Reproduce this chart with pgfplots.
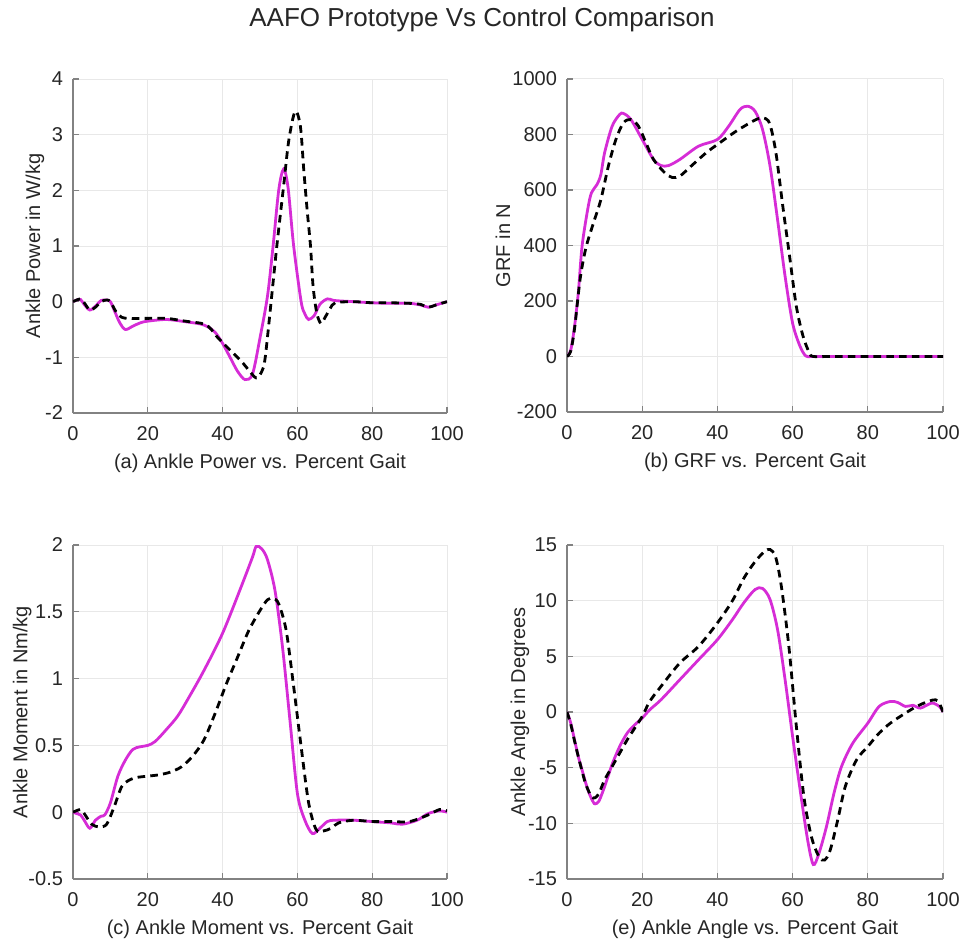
\documentclass[border=0pt]{standalone}
\usepackage{fontspec}
\setmainfont{Liberation Sans}
\usepackage{pgfplots}
\pgfplotsset{compat=1.18}

\definecolor{mlmag}{RGB}{214,44,214}
\definecolor{mlaxis}{RGB}{130,130,130}
\definecolor{mltext}{RGB}{38,38,38}

\pgfplotsset{
  gaitpanel/.style={
    scale only axis, anchor=south west,
    xmin=0, xmax=100, xtick={0,20,...,100},
    axis x line*=bottom, axis y line*=left,
    axis line style={mlaxis, line width=0.6pt},
    tick style={mlaxis, line width=0.6pt},
    tick align=inside, major tick length=3pt,
    grid=major, major grid style={gray!18, line width=0.5pt},
    tick label style={font=\fontsize{10}{12}\selectfont, text=mltext},
    label style={font=\fontsize{10}{12}\selectfont, text=mltext},
    /pgf/number format/assume math mode=true,
    /pgf/number format/1000 sep={},
    xticklabel style={yshift=-3pt},
    yticklabel style={xshift=-1.5pt},
    xlabel style={at={(axis description cs:0.5,-0.150)}, anchor=center},
  },
  aafo/.style={mlmag, line width=1.4pt, smooth, tension=0.5},
  ctrl/.style={black, line width=1.4pt, dash pattern=on 3.8pt off 2.6pt, smooth, tension=0.5},
}

\begin{document}
\begin{tikzpicture}
\useasboundingbox (0,0) rectangle (480.5pt,469pt);
\node[font=\fontsize{13}{15}\selectfont, text=mltext] at (241pt,459pt) {AAFO Prototype Vs Control Comparison};

% (a) ankle power
\begin{axis}[gaitpanel, at={(36.5pt,262.5pt)}, width=187pt, height=167pt,
  ymin=-2, ymax=4, ytick={-2,-1,...,4},
  xlabel={(a) Ankle Power vs. Percent Gait},
  ylabel={Ankle Power in W/kg},
  ylabel style={at={(axis description cs:-0.102,0.5)}, anchor=center}]
\addplot[aafo] coordinates {
  (0,0) (1,0.03) (2,0.04) (3,-0.05) (4.5,-0.15) (6,-0.08) (7.5,0.02) (9,0.03)
  (10,0.0) (11,-0.15) (12.5,-0.38) (14,-0.5) (16,-0.44) (18,-0.38) (20,-0.35)
  (25,-0.32) (30,-0.36) (34,-0.40) (36,-0.45) (38,-0.55) (40,-0.75) (42,-1.0)
  (44,-1.25) (46,-1.4) (48,-1.3) (50,-0.65) (52,0.1) (53.5,1.0) (55,2.0)
  (56.3,2.38) (57.5,2.05) (59,1.0) (61,0.0) (62,-0.22) (63,-0.32) (64.5,-0.25)
  (66,-0.05) (68,0.05) (70,0.02) (75,0.0) (80,-0.02) (85,-0.03) (90,-0.03)
  (93,-0.06) (95,-0.1) (97,-0.06) (100,0.0)
};
\addplot[ctrl] coordinates {
  (0,0) (2,0.05) (3,-0.02) (4.5,-0.15) (6,-0.1) (7.5,0.0) (9,0.03) (10,0.0)
  (11.5,-0.18) (13,-0.28) (15,-0.3) (20,-0.3) (25,-0.3) (30,-0.35) (35,-0.4)
  (37,-0.5) (38.5,-0.63) (42,-0.87) (45,-1.07) (47,-1.23) (49,-1.37)
  (50.5,-1.25) (51.4,-1.0) (53.2,0.15) (54.5,1.0) (56.3,2.07) (57.7,2.9)
  (59.4,3.42) (60.8,3.15) (61.7,2.37) (62.6,1.65) (63.5,1.0) (64.2,0.27)
  (65.2,-0.21) (66.3,-0.39) (67.5,-0.27) (68.8,-0.12) (70.1,-0.02) (75,0.0)
  (80,-0.02) (85,-0.02) (90,-0.03) (93,-0.05) (95,-0.1) (97,-0.06) (100,0.0)
};
\end{axis}

% (b) ground reaction force
\begin{axis}[gaitpanel, at={(283.5pt,263pt)}, width=188pt, height=166.5pt,
  ymin=-200, ymax=1000, ytick={-200,0,...,1000},
  xlabel={(b) GRF vs. Percent Gait},
  ylabel={GRF in N},
  ylabel style={at={(axis description cs:-0.170,0.5)}, anchor=center}]
\addplot[aafo] coordinates {
  (0,0) (1,24) (2,108) (3,229) (4,397) (5.5,530) (6.5,590) (8,620) (9,656)
  (10,734) (12,830) (14,872) (15,876) (17,854) (20,782) (23,710) (25,688)
  (27,688) (30,710) (35,758) (40,782) (43,830) (46,890) (48,902) (50,884)
  (52,818) (54,686) (56,493) (58,289) (60,120) (62,36) (63.5,2) (65,0)
  (70,0) (80,0) (90,0) (100,0)
};
\addplot[ctrl] coordinates {
  (0,0) (1,20) (2,100) (3.5,280) (5,390) (7,480) (9,565) (11,686) (13,782)
  (15,842) (17,854) (19,830) (21,770) (23,710) (26,662) (28,645) (30,650)
  (33,686) (37,734) (40,764) (45,812) (50,852) (52,860) (53.5,850)
  (54.5,810) (55.7,722) (57.4,541) (59.2,361) (61,180) (62.8,72) (64.5,12)
  (65.5,0) (70,0) (80,0) (90,0) (100,0)
};
\end{axis}

% (c) ankle moment
\begin{axis}[gaitpanel, at={(36.5pt,29.5pt)}, width=187pt, height=167pt,
  ymin=-0.5, ymax=2, ytick={-0.5,0,...,2},
  xlabel={(c) Ankle Moment vs. Percent Gait},
  ylabel={Ankle Moment in Nm/kg},
  ylabel style={at={(axis description cs:-0.136,0.5)}, anchor=center}]
\addplot[aafo] coordinates {
  (0,0) (1,-0.01) (2,-0.02) (3,-0.06) (4.5,-0.12) (6,-0.06) (7.5,-0.03)
  (8.5,-0.02) (10,0.07) (12,0.27) (14,0.39) (16,0.47) (18,0.49) (20,0.50)
  (22,0.53) (25,0.62) (28,0.72) (31,0.86) (35,1.06) (40,1.34) (45,1.69)
  (48,1.91) (49,1.99) (50.5,1.97) (52,1.89) (54,1.66) (56,1.24) (58,0.69)
  (60,0.14) (62,-0.06) (64,-0.16) (66,-0.12) (68,-0.07) (70,-0.06) (75,-0.06)
  (80,-0.07) (85,-0.08) (88,-0.09) (92,-0.06) (95,-0.01) (98,0.01) (100,0.0)
};
\addplot[ctrl] coordinates {
  (0,0) (2,0.02) (3,-0.01) (5,-0.09) (7,-0.11) (9,-0.09) (11,0.04) (13,0.19)
  (15,0.24) (17,0.26) (20,0.27) (23,0.28) (26,0.30) (29,0.34) (32,0.42)
  (35,0.54) (38,0.74) (41,0.96) (44,1.16) (47,1.36) (50,1.51) (52,1.59)
  (53.5,1.60) (55,1.56) (57,1.36) (59,0.94) (61,0.49) (63,0.07) (65,-0.13)
  (67,-0.14) (69,-0.12) (71,-0.08) (75,-0.06) (80,-0.07) (85,-0.07)
  (90,-0.07) (95,-0.02) (98,0.02) (100,0.01)
};
\end{axis}

% (e) ankle angle
\begin{axis}[gaitpanel, at={(283.5pt,29.5pt)}, width=188pt, height=167pt,
  ymin=-15, ymax=15, ytick={-15,-10,...,15},
  xlabel={(e) Ankle Angle vs. Percent Gait},
  ylabel={Ankle Angle in Degrees},
  ylabel style={at={(axis description cs:-0.125,0.5)}, anchor=center}]
\addplot[aafo] coordinates {
  (0,0) (1,-1.0) (2,-2.5) (3,-4.0) (4,-5.2) (5,-6.4) (6,-7.4) (7,-8.1)
  (7.5,-8.25) (8.5,-8.0) (10,-6.7) (12,-4.7) (14,-3.1) (16,-1.9) (18,-1.15)
  (20,-0.55) (22,0.2) (25,1.1) (30,2.9) (35,4.7) (40,6.5) (44,8.3) (47,9.8)
  (50,11.0) (52,11.1) (54,10.1) (56,7.4) (58,2.9) (60,-2.2) (62,-7.0)
  (64,-11.5) (65.5,-13.7) (67,-12.7) (69,-10.3) (71,-7.3) (73,-4.9)
  (76,-2.8) (80,-1.0) (83,0.5) (86,0.95) (88,0.85) (90,0.5) (92,0.6)
  (94,0.35) (97,0.8) (99,0.5) (100,0)
};
\addplot[ctrl] coordinates {
  (0,0) (1,-1.1) (2,-2.6) (3,-4.0) (4,-5.3) (5,-6.5) (6.5,-7.6) (7.5,-7.7)
  (8.5,-7.3) (10,-6.1) (12,-4.9) (14,-3.7) (16,-2.5) (18,-1.45) (20,-0.4)
  (22,0.95) (25,2.3) (30,4.4) (35,5.9) (40,8.0) (44,10.0) (47,12.0)
  (50,13.5) (52.5,14.4) (54,14.6) (55.5,13.9) (57,11.3) (59,5.9) (61,-1.3)
  (63,-7.6) (65,-11.2) (67,-13.0) (68.5,-13.3) (70,-12.4) (72,-9.7)
  (74,-6.7) (77,-4.3) (80,-3.1) (83,-1.9) (86,-1.0) (90,-0.1) (93,0.5)
  (96,0.95) (98,1.1) (99,0.8) (100,0)
};
\end{axis}
\end{tikzpicture}
\end{document}
